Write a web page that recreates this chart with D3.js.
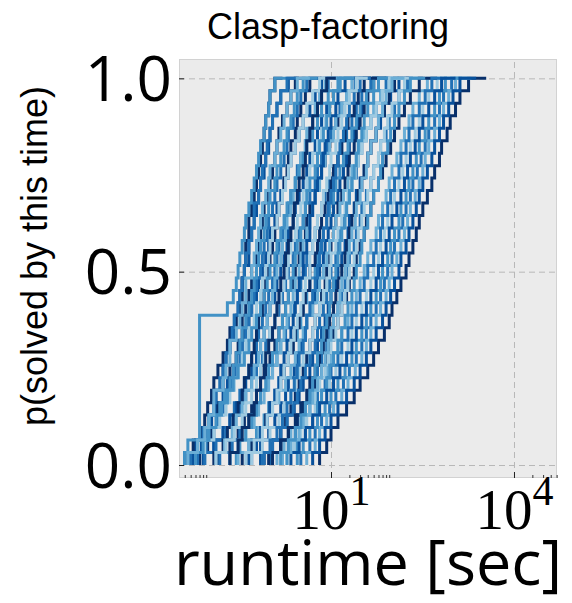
<!DOCTYPE html>
<html><head><meta charset="utf-8">
<script src="https://cdn.jsdelivr.net/npm/d3@7"></script>
<style>body{margin:0;background:#fff;} svg{display:block;}</style>
</head><body>
<svg id="chart" width="572" height="603"></svg>
<script>
// ---- labels / ticks ----
const titleText = "Clasp-factoring";
const xLabelText = "runtime [sec]";
const yLabelText = "p(solved by this time)";
const yTickValues = [0.0, 0.5, 1.0];
const xMajorTickValues = [10, 10000];
const xMajorTickExponents = ["1", "4"];
const xMinorDecades = [0.01, 10, 10000];
const xMinorMultipliers = [2, 3, 4, 5, 6, 7, 8, 9];

// ---- sorted runtimes (seconds) of the runs of each instance ----
const inst01 = [0.040,0.045,0.070,0.070,0.070,0.070,0.070,0.070,0.070,0.070,0.070,0.070,0.20,0.25,0.28,0.30,0.32,0.35,0.38,0.40,0.45,0.50,0.55,0.60,0.65,0.70,0.80,0.85,0.95,1.0,1.2,1.9];
const inst02 = [0.045,0.055,0.075,0.085,0.095,0.11,0.12,0.14,0.17,0.20,0.22,0.28,0.32,0.35,0.35,0.38,0.40,0.40,0.45,0.45,0.50,0.55,0.60,0.65,0.70,0.75,0.80,0.85,0.95,1.0,1.2,1.6];
const inst03 = [0.050,0.065,0.080,0.10,0.12,0.13,0.15,0.17,0.19,0.22,0.24,0.26,0.30,0.32,0.35,0.38,0.40,0.45,0.50,0.55,0.55,0.65,0.70,0.75,0.85,0.90,1.0,1.1,1.3,1.5,1.9,2.8];
const inst04 = [0.055,0.075,0.090,0.11,0.13,0.13,0.17,0.17,0.19,0.22,0.26,0.26,0.30,0.32,0.35,0.38,0.45,0.45,0.50,0.55,0.60,0.65,0.70,0.80,0.85,0.95,1.0,1.1,1.3,1.5,2.0,3.0];
const inst05 = [0.045,0.065,0.085,0.10,0.12,0.12,0.17,0.19,0.22,0.22,0.28,0.32,0.35,0.40,0.40,0.50,0.55,0.60,0.65,0.70,0.75,0.85,0.95,1.0,1.2,1.3,1.5,1.7,1.9,2.2,2.8,4.5];
const inst06 = [0.070,0.095,0.11,0.14,0.14,0.19,0.22,0.22,0.28,0.30,0.35,0.35,0.40,0.45,0.50,0.50,0.60,0.65,0.70,0.75,0.80,0.90,1.0,1.1,1.2,1.3,1.4,1.6,1.9,2.2,2.6,3.8];
const inst07 = [0.060,0.080,0.10,0.10,0.15,0.18,0.22,0.25,0.28,0.32,0.35,0.40,0.45,0.50,0.55,0.60,0.65,0.70,0.80,0.85,0.95,1.0,1.2,1.3,1.5,1.7,1.9,2.2,2.5,2.8,3.5,6.0];
const inst08 = [0.065,0.090,0.12,0.14,0.17,0.20,0.24,0.28,0.32,0.35,0.40,0.45,0.50,0.55,0.60,0.70,0.75,0.80,0.90,0.95,1.1,1.2,1.3,1.5,1.7,1.9,2.0,2.4,2.8,3.2,4.0,6.5];
const inst09 = [0.040,0.060,0.085,0.11,0.14,0.17,0.20,0.25,0.28,0.35,0.38,0.45,0.50,0.60,0.65,0.75,0.85,0.95,1.0,1.2,1.3,1.5,1.7,2.0,2.2,2.6,3.0,3.5,4.5,5.5,7.0,13];
const inst10 = [0.060,0.085,0.12,0.15,0.19,0.22,0.26,0.30,0.35,0.40,0.45,0.55,0.60,0.70,0.75,0.85,0.95,1.0,1.1,1.3,1.4,1.6,1.8,2.0,2.2,2.6,3.0,3.5,4.0,5.0,6.5,11];
const inst11 = [0.12,0.17,0.20,0.25,0.30,0.35,0.38,0.45,0.50,0.55,0.60,0.65,0.75,0.80,0.85,0.95,1.0,1.1,1.2,1.3,1.4,1.6,1.7,1.9,2.0,2.2,2.6,2.8,3.2,3.8,4.5,7.0];
const inst12 = [0.040,0.065,0.095,0.13,0.16,0.20,0.25,0.30,0.38,0.45,0.50,0.60,0.70,0.80,0.90,1.0,1.2,1.3,1.5,1.7,1.9,2.2,2.6,3.0,3.5,4.0,5.0,6.0,7.0,9.0,13,24];
const inst13 = [0.085,0.12,0.17,0.22,0.26,0.32,0.38,0.45,0.50,0.60,0.65,0.75,0.85,0.95,1.1,1.2,1.3,1.4,1.6,1.8,2.0,2.2,2.6,2.8,3.2,3.8,4.5,5.0,6.0,7.0,9.0,15];
const inst14 = [0.13,0.18,0.24,0.28,0.35,0.40,0.50,0.55,0.65,0.70,0.80,0.90,1.0,1.1,1.2,1.3,1.5,1.6,1.8,1.9,2.2,2.4,2.6,3.0,3.2,3.8,4.0,5.0,5.5,6.5,8.0,13];
const inst15 = [0.080,0.12,0.17,0.22,0.28,0.35,0.40,0.50,0.60,0.70,0.80,0.90,1.0,1.2,1.3,1.5,1.7,1.9,2.0,2.4,2.6,3.0,3.5,4.0,4.5,5.5,6.0,7.0,8.5,11,14,25];
const inst16 = [0.22,0.30,0.35,0.45,0.55,0.60,0.70,0.80,0.85,0.95,1.1,1.2,1.3,1.4,1.5,1.7,1.8,2.0,2.2,2.4,2.5,2.8,3.0,3.5,3.8,4.0,4.5,5.0,6.0,7.0,8.5,12];
const inst17 = [0.13,0.19,0.26,0.35,0.40,0.50,0.60,0.70,0.80,0.95,1.0,1.2,1.3,1.5,1.7,1.9,2.0,2.2,2.6,2.8,3.2,3.5,4.0,4.5,5.0,6.0,7.0,8.0,9.5,11,14,24];
const inst18 = [0.085,0.13,0.19,0.25,0.32,0.40,0.50,0.60,0.75,0.85,1.0,1.2,1.4,1.6,1.8,2.0,2.4,2.6,3.0,3.5,3.8,4.5,5.5,6.0,7.0,8.5,10,12,14,18,25,45];
const inst19 = [0.22,0.32,0.40,0.50,0.60,0.70,0.85,0.95,1.1,1.3,1.4,1.6,1.8,2.0,2.2,2.4,2.6,2.8,3.2,3.5,3.8,4.0,4.5,5.5,6.0,6.5,7.5,8.5,9.5,11,14,22];
const inst20 = [0.14,0.22,0.30,0.38,0.50,0.60,0.70,0.85,1.0,1.2,1.4,1.6,1.8,2.0,2.4,2.6,3.0,3.2,3.8,4.0,4.5,5.5,6.0,7.0,8.0,9.5,11,13,15,19,25,45];
const inst21 = [0.22,0.30,0.40,0.55,0.65,0.80,0.95,1.1,1.3,1.5,1.7,1.9,2.2,2.4,2.6,3.0,3.2,3.5,4.0,4.5,5.0,5.5,6.5,7.0,8.0,9.5,11,12,15,18,22,38];
const inst22 = [0.45,0.60,0.70,0.90,1.0,1.2,1.4,1.5,1.7,1.9,2.2,2.4,2.6,2.8,3.0,3.5,3.5,4.0,4.5,4.5,5.0,5.5,6.0,7.0,7.5,8.0,9.0,10,12,13,17,25];
const inst23 = [0.15,0.24,0.32,0.45,0.60,0.70,0.90,1.1,1.3,1.5,1.8,2.0,2.5,2.8,3.2,3.8,4.0,5.0,5.5,6.0,7.0,8.0,9.5,11,13,15,18,22,26,32,45,85];
const inst24 = [0.40,0.55,0.75,0.90,1.1,1.3,1.5,1.7,2.0,2.2,2.5,2.8,3.2,3.5,3.8,4.5,4.5,5.0,5.5,6.0,7.0,7.5,8.5,9.5,10,12,13,15,17,20,26,40];
const inst25 = [0.35,0.50,0.65,0.85,1.0,1.3,1.5,1.7,2.0,2.4,2.6,3.0,3.5,3.8,4.5,4.5,5.5,6.0,6.5,7.0,8.0,9.0,10,11,13,15,17,19,24,28,35,60];
const inst26 = [0.28,0.45,0.60,0.80,0.95,1.2,1.4,1.7,2.0,2.4,2.8,3.2,3.5,4.0,4.5,5.5,6.0,6.5,7.5,8.5,9.5,11,12,14,16,19,22,26,30,38,50,90];
const inst27 = [0.80,1.0,1.3,1.6,1.9,2.2,2.5,2.8,3.0,3.5,3.8,4.0,4.5,5.0,5.5,6.0,6.5,7.0,7.5,8.5,9.0,10,11,12,13,14,16,18,20,24,30,45];
const inst28 = [0.50,0.70,0.95,1.2,1.5,1.8,2.0,2.5,2.8,3.2,3.8,4.0,5.0,5.5,6.0,6.5,7.5,8.0,9.0,10,11,13,14,16,18,20,24,28,32,40,50,85];
const inst29 = [0.30,0.45,0.65,0.90,1.1,1.4,1.8,2.2,2.6,3.0,3.5,4.0,5.0,6.0,6.5,7.5,8.5,9.5,11,12,14,16,19,22,26,30,35,45,50,65,90,170];
const inst30 = [0.80,1.1,1.5,1.8,2.2,2.6,3.0,3.5,4.0,4.5,5.0,5.5,6.5,7.0,8.0,8.5,9.5,10,11,12,13,15,17,19,20,24,26,30,35,40,50,80];
const inst31 = [0.50,0.75,1.0,1.4,1.7,2.2,2.6,3.0,3.5,4.5,5.0,5.5,6.5,7.5,8.5,9.5,10,12,13,15,17,19,22,25,28,32,38,45,55,70,90,160];
const inst32 = [0.75,1.1,1.5,1.9,2.4,2.8,3.2,3.8,4.5,5.5,6.0,6.5,7.5,8.5,9.5,10,12,13,14,16,18,20,22,26,28,32,38,45,55,65,80,130];
const inst33 = [1.5,2.0,2.6,3.2,3.8,4.5,5.0,5.5,6.0,7.0,7.5,8.5,9.5,10,11,12,13,14,15,17,18,20,22,24,26,28,32,35,40,50,60,85];
const inst34 = [0.70,1.1,1.5,1.9,2.5,3.0,3.5,4.5,5.0,6.0,7.0,8.0,9.0,10,12,13,15,17,19,20,24,26,30,35,40,45,55,65,75,95,130,220];
const inst35 = [1.1,1.5,2.0,2.6,3.2,4.0,4.5,5.5,6.5,7.5,8.5,9.5,11,12,13,15,17,18,20,22,25,28,32,35,40,45,55,60,75,90,110,190];
const inst36 = [1.6,2.2,3.0,3.5,4.5,5.0,6.0,7.0,8.0,9.0,10,11,13,14,15,17,19,20,22,25,26,30,32,38,40,45,55,60,70,80,100,160];
const inst37 = [1.0,1.5,2.0,2.8,3.5,4.5,5.0,6.0,7.0,8.5,9.5,11,13,15,17,19,20,24,26,30,32,38,45,50,60,65,80,90,110,130,180,320];
const inst38 = [1.5,2.2,3.0,3.8,4.5,5.5,6.5,8.0,9.0,10,12,13,15,17,19,20,24,26,28,32,35,40,45,50,60,65,75,85,100,130,160,260];
const inst39 = [0.95,1.5,2.0,2.8,3.5,4.5,5.5,7.0,8.5,9.5,11,13,15,18,20,24,26,30,35,38,45,50,60,70,80,95,110,130,160,200,280,550];
const inst40 = [1.9,2.8,3.8,5.0,6.0,7.0,8.5,9.5,11,13,15,17,19,22,24,26,30,32,35,40,45,50,60,65,70,85,95,110,130,160,200,350];
const inst41 = [1.3,1.7,2.2,2.8,3.8,5.0,6.5,8.5,10,13,15,19,22,26,30,35,40,45,55,60,70,80,90,100,120,140,160,190,220,280,380,650];
const inst42 = [1.6,2.0,2.6,3.5,4.5,6.0,8.0,10,13,15,19,22,26,30,35,40,50,55,65,70,85,95,110,130,140,170,190,220,280,350,450,800];
const inst43 = [1.9,2.5,3.2,4.0,5.5,7.0,9.5,12,15,19,22,26,32,38,45,50,60,65,75,85,100,110,130,150,170,200,240,280,320,400,550,950];
const inst44 = [2.2,3.0,3.8,5.0,6.5,8.5,11,14,18,22,26,32,38,45,55,60,70,80,90,100,120,140,160,180,200,240,280,320,400,500,650,1100];
const inst45 = [2.8,3.5,4.5,6.0,8.0,10,13,17,22,26,32,38,45,55,65,70,85,95,110,130,140,170,190,220,250,280,350,400,500,600,750,1400];
const inst46 = [3.2,4.5,5.5,7.0,9.5,12,16,20,26,32,38,45,55,65,75,85,100,110,130,150,170,200,220,260,300,350,400,500,600,700,950,1700];
const inst47 = [4.0,5.5,6.5,8.5,11,15,19,25,32,38,45,55,65,80,90,100,120,140,160,180,200,240,280,320,350,400,500,600,700,850,1100,2000];
const inst48 = [5.0,6.5,8.0,10,13,18,24,30,38,45,55,70,80,95,110,130,140,170,190,220,250,280,320,380,450,500,600,700,850,1000,1300,2400];
const inst49 = [6.5,8.5,10,13,18,24,30,40,50,60,75,90,100,120,140,170,190,220,250,280,320,380,450,500,600,650,800,900,1100,1300,1800,3500];

const seriesColors = [
  "#4292c6","#08306b","#2171b5","#08519c","#6baed6","#08306b","#4292c6","#2171b5","#08519c","#9ecae1",
  "#08306b","#4292c6","#2171b5","#6baed6","#08519c","#08306b","#9ecae1","#2171b5","#4292c6","#08306b",
  "#6baed6","#08519c","#2171b5","#9ecae1","#08306b","#4292c6","#2171b5","#08519c","#6baed6","#08306b",
  "#9ecae1","#2171b5","#4292c6","#08519c","#08306b","#6baed6","#2171b5","#9ecae1","#08306b","#4292c6",
  "#6baed6","#2171b5","#9ecae1","#08519c","#4292c6","#2171b5","#6baed6","#08519c","#08306b"];

const instances = [inst01,inst02,inst03,inst04,inst05,inst06,inst07,inst08,inst09,inst10,
  inst11,inst12,inst13,inst14,inst15,inst16,inst17,inst18,inst19,inst20,
  inst21,inst22,inst23,inst24,inst25,inst26,inst27,inst28,inst29,inst30,
  inst31,inst32,inst33,inst34,inst35,inst36,inst37,inst38,inst39,inst40,
  inst41,inst42,inst43,inst44,inst45,inst46,inst47,inst48,inst49];

// order in which the instances are drawn (later ones on top)
const drawOrder = [12,3,27,40,8,19,33,1,45,22,14,36,5,29,48,17,10,42,25,0,31,7,38,20,46,13,2,34,24,44,9,28,16,41,6,37,21,47,11,30,4,39,18,26,43,15,35,23,32];

// ---- layout ----
const plot = {left:179, right:557, top:59, bottom:478};
const svg = d3.select("#chart");

const x = d3.scaleLog().domain([0.0322, 50700]).range([plot.left, plot.right]);
const y = d3.scaleLinear().domain([-0.0336, 1.050]).range([plot.bottom, plot.top]);

// background
svg.append("rect").attr("x", plot.left).attr("y", plot.top)
  .attr("width", plot.right - plot.left).attr("height", plot.bottom - plot.top)
  .attr("fill", "#ebebeb");

// grid
const gridY = svg.append("g").attr("transform", `translate(${plot.left},0)`)
  .call(d3.axisLeft(y).tickValues(yTickValues).tickSize(-(plot.right - plot.left)).tickFormat(""));
gridY.select(".domain").remove();
gridY.selectAll(".tick line").attr("stroke", "#b8b8b8").attr("stroke-width", 1).attr("stroke-dasharray", "6,4");

const gridX = svg.append("g").attr("transform", `translate(0,${plot.bottom})`)
  .call(d3.axisBottom(x).tickValues(xMajorTickValues).tickSize(-(plot.bottom - plot.top)).tickFormat(""));
gridX.select(".domain").remove();
gridX.selectAll(".tick line").attr("stroke", "#b8b8b8").attr("stroke-width", 1).attr("stroke-dasharray", "6,4");

// clip
svg.append("clipPath").attr("id", "clip").append("rect")
  .attr("x", plot.left).attr("y", plot.top)
  .attr("width", plot.right - plot.left).attr("height", plot.bottom - plot.top);

// ECDF step lines
const line = d3.line()
  .x(d => x(d[0])).y(d => y(d[1]))
  .curve(d3.curveStepBefore);

const linesG = svg.append("g").attr("clip-path", "url(#clip)");
drawOrder.forEach(k => {
  const runs = instances[k];
  const n = runs.length;
  const pts = runs.map((t, i) => [t, i / (n - 1)]);
  linesG.append("path").datum(pts)
    .attr("d", line)
    .attr("fill", "none")
    .attr("stroke", seriesColors[k])
    .attr("stroke-width", 3)
    .attr("stroke-linejoin", "miter");
});

// frame
svg.append("rect").attr("x", plot.left + 0.5).attr("y", plot.top + 0.5)
  .attr("width", plot.right - plot.left - 1).attr("height", plot.bottom - plot.top - 1)
  .attr("fill", "none").attr("stroke", "#d2d2d2").attr("stroke-width", 1);

// x minor ticks
const xMinorTickValues = [];
xMinorDecades.forEach(dec => xMinorMultipliers.forEach(m => {
  const v = dec * m;
  if (v >= x.domain()[0] && v <= x.domain()[1]) xMinorTickValues.push(v);
}));
const xMinorAxis = svg.append("g").attr("transform", `translate(0,${plot.bottom})`)
  .call(d3.axisBottom(x).tickValues(xMinorTickValues).tickSize(-3).tickFormat(""));
xMinorAxis.select(".domain").remove();
xMinorAxis.selectAll(".tick line").attr("stroke", "#333").attr("stroke-width", 1);

// x major ticks + labels
const xAxis = svg.append("g").attr("transform", `translate(0,${plot.bottom})`)
  .call(d3.axisBottom(x).tickValues(xMajorTickValues).tickSize(-6).tickFormat(""));
xAxis.select(".domain").remove();
xAxis.selectAll(".tick line").attr("stroke", "#222").attr("stroke-width", 1);
xAxis.selectAll(".tick text").remove();
xAxis.selectAll(".tick").each(function(d, i) {
  const t = d3.select(this).append("text")
    .attr("x", 0).attr("y", 51)
    .attr("text-anchor", "middle")
    .attr("fill", "#000")
    .attr("font-family", "'Liberation Serif', 'Times New Roman', serif");
  t.append("tspan").attr("font-size", 57).text("10");
  t.append("tspan").attr("font-size", 42).attr("dy", -24).text(xMajorTickExponents[i]);
});

// y ticks + labels
const yAxis = svg.append("g").attr("transform", `translate(${plot.left},0)`)
  .call(d3.axisLeft(y).tickValues(yTickValues).tickSize(-5).tickPadding(7).tickFormat(d3.format(".1f")));
yAxis.select(".domain").remove();
yAxis.selectAll(".tick line").attr("stroke", "#222").attr("stroke-width", 1);
yAxis.selectAll(".tick text")
  .attr("font-family", "'Open Sans', sans-serif")
  .attr("font-size", 62)
  .attr("fill", "#000")
  .attr("dy", "0.36em");

// title
svg.append("text").attr("x", 328).attr("y", 39)
  .attr("text-anchor", "middle")
  .attr("font-family", "'Liberation Sans', Arial, sans-serif")
  .attr("font-size", 36).attr("fill", "#000")
  .text(titleText);

// x label
svg.append("text").attr("x", 368).attr("y", 585)
  .attr("text-anchor", "middle")
  .attr("font-family", "'Open Sans', sans-serif")
  .attr("font-size", 63).attr("fill", "#000")
  .text(xLabelText);

// y label
svg.append("text")
  .attr("transform", "translate(47,256) rotate(-90)")
  .attr("text-anchor", "middle")
  .attr("font-family", "'Liberation Sans', Arial, sans-serif")
  .attr("font-size", 36).attr("fill", "#000")
  .text(yLabelText);
</script>
</body></html>
